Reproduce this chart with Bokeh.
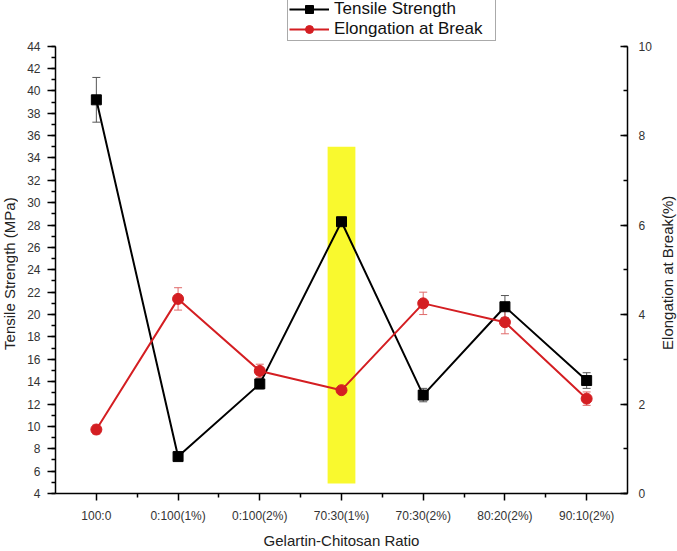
import math
from bokeh.plotting import figure
from bokeh.layouts import row
from bokeh.models import (Range1d, LinearAxis, FixedTicker, SingleIntervalTicker,
                          Whisker, ColumnDataSource, Legend, LegendItem, TeeHead, Label)
from bokeh.embed import file_html
from bokeh.resources import INLINE

# ---- data ----
categories = ["100:0", "0:100(1%)", "0:100(2%)", "70:30(1%)", "70:30(2%)", "80:20(2%)", "90:10(2%)"]
tensile = [39.2, 7.3, 13.8, 28.3, 12.8, 20.7, 14.1]
tensile_err = [2.0, 0.2, 0.45, 1.4, 0.6, 1.0, 0.7]
elongation = [1.43, 4.35, 2.74, 2.31, 4.25, 3.83, 2.12]
elongation_err = [0.1, 0.25, 0.15, 0.15, 0.25, 0.26, 0.15]
tensile_axis = (4, 44)
elongation_axis = (0, 10)
left_title = "Tensile Strength (MPa)"
right_title = "Elongation at Break(%)"
x_title = "Gelartin-Chitosan Ratio"
highlight_category = "70:30(1%)"
highlight_low, highlight_high = 4.9, 35.0

# ---- layout constants (pixels) ----
H = 551
LT_W, RT_W = 18, 20          # side strips holding the vertical axis titles
MAIN_W = 677 - LT_W - RT_W
LEFT, RIGHT, BOTTOM = 37, 30, 54
HEADROOM = 46                # space above the axes' top for the legend
plot_h = H - BOTTOM - HEADROOM
t_extra = HEADROOM * (tensile_axis[1] - tensile_axis[0]) / plot_h
e_extra = HEADROOM * (elongation_axis[1] - elongation_axis[0]) / plot_h
TITLE_PX = 15
STRIP_FRAME_H = 491          # drawable height measured for the title strips
TITLE_START_Y = 348          # pixel row (from top) where the vertical titles begin

# ---- derived ----
xs = list(range(1, len(categories) + 1))
src = ColumnDataSource(dict(
    x=xs, t=tensile,
    tl=[v - e for v, e in zip(tensile, tensile_err)],
    tu=[v + e for v, e in zip(tensile, tensile_err)],
    e=elongation,
    el=[v - e for v, e in zip(elongation, elongation_err)],
    eu=[v + e for v, e in zip(elongation, elongation_err)],
))

FONT = "Liberation Sans"
RED = "#d41e22"

p = figure(width=MAIN_W, height=H, output_backend="svg", toolbar_location=None,
           x_range=Range1d(0.5, len(categories) + 0.5),
           y_range=Range1d(tensile_axis[0], tensile_axis[1] + t_extra),
           min_border_left=LEFT, min_border_right=RIGHT, min_border_top=0,
           min_border_bottom=BOTTOM)
p.extra_y_ranges = {"elong": Range1d(elongation_axis[0], elongation_axis[1] + e_extra)}
p.outline_line_color = None
p.xgrid.visible = False
p.ygrid.visible = False
p.background_fill_color = "white"

# highlight bar
hx = xs[categories.index(highlight_category)]
p.quad(left=hx - 0.17, right=hx + 0.17, bottom=highlight_low, top=highlight_high,
       fill_color="#f9f92e", line_color=None)

# tensile
p.add_layout(Whisker(source=src, base="x", lower="tl", upper="tu", line_color="#555555",
                     line_width=1,
                     lower_head=TeeHead(size=8, line_color="#555555", line_width=1),
                     upper_head=TeeHead(size=8, line_color="#555555", line_width=1)))
l1 = p.line("x", "t", source=src, line_color="black", line_width=2)
s1 = p.scatter("x", "t", source=src, marker="square", size=10, color="black")

# elongation
p.add_layout(Whisker(source=src, base="x", lower="el", upper="eu", line_color="#e06a6a",
                     line_width=1, y_range_name="elong",
                     lower_head=TeeHead(size=8, line_color="#e06a6a", line_width=1),
                     upper_head=TeeHead(size=8, line_color="#e06a6a", line_width=1)))
l2 = p.line("x", "e", source=src, line_color=RED, line_width=2, y_range_name="elong")
s2 = p.scatter("x", "e", source=src, marker="circle", size=11, color=RED, y_range_name="elong")

# x axis
xa = p.xaxis[0]
xa.ticker = FixedTicker(ticks=xs, minor_ticks=[x + 0.5 for x in xs[:-1]])
xa.major_label_overrides = {x: c for x, c in zip(xs, categories)}
xa.axis_label = x_title

# left axis
ya = p.yaxis[0]
ya.ticker = SingleIntervalTicker(interval=2, num_minor_ticks=2)
ya.bounds = tensile_axis

# right axis
ra = LinearAxis(y_range_name="elong",
                ticker=SingleIntervalTicker(interval=2, num_minor_ticks=2),
                bounds=elongation_axis)
p.add_layout(ra, "right")

for ax in (xa, ya, ra):
    ax.axis_line_color = "black"
    ax.axis_line_width = 1.5
    ax.major_tick_line_color = "black"
    ax.minor_tick_line_color = "black"
    ax.major_tick_line_width = 1.5
    ax.minor_tick_line_width = 1.5
    ax.major_label_text_font = FONT
    ax.major_label_text_font_size = "12px"
    ax.major_label_text_color = "#333333"
    ax.axis_label_text_font = FONT
    ax.axis_label_text_font_size = f"{TITLE_PX}px"
    ax.axis_label_text_font_style = "normal"
    ax.axis_label_text_color = "#222222"

xa.major_tick_out, xa.major_tick_in = 7, 0
xa.minor_tick_out, xa.minor_tick_in = 4, 0
xa.major_label_standoff = 8
xa.axis_label_standoff = 6

ya.major_tick_out, ya.major_tick_in = 8, 0
ya.minor_tick_out, ya.minor_tick_in = 4, 0
ya.major_label_standoff = 7

ra.major_tick_out, ra.major_tick_in = 0, 7
ra.minor_tick_out, ra.minor_tick_in = 0, 4
ra.major_label_standoff = 11

legend = Legend(items=[LegendItem(label="Tensile Strength", renderers=[l1, s1]),
                       LegendItem(label="Elongation at Break", renderers=[l2, s2])],
                location=(232, plot_h + 1), orientation="vertical",
                label_text_font=FONT, label_text_font_size="17px",
                label_text_color="#111111",
                glyph_width=40, glyph_height=20, label_height=20, label_width=160,
                label_standoff=5, padding=1, spacing=0, margin=0,
                border_line_color="#555555", border_line_width=1,
                background_fill_color="white", background_fill_alpha=1.0)
p.add_layout(legend, "center")


# ---- strips with the vertical axis titles (reading bottom-to-top) ----
def title_strip(text, w, cx):
    f = figure(width=w, height=H, output_backend="svg", toolbar_location=None,
               x_axis_type=None, y_axis_type=None, min_border=0,
               x_range=Range1d(0, w), y_range=Range1d(0, H))
    f.outline_line_color = None
    y_data = H * (1 - TITLE_START_Y / STRIP_FRAME_H)
    f.add_layout(Label(x=cx, y=y_data, text=text, angle=math.pi / 2,
                       text_align="left", text_baseline="middle", text_font=FONT,
                       text_font_size=f"{TITLE_PX}px", text_color="#222222"))
    return f


left_strip = title_strip(left_title, LT_W, 9)
right_strip = title_strip(right_title, RT_W, 10)

layout = row(left_strip, p, right_strip, spacing=0)
open("out.html", "w").write(file_html(layout, INLINE))
